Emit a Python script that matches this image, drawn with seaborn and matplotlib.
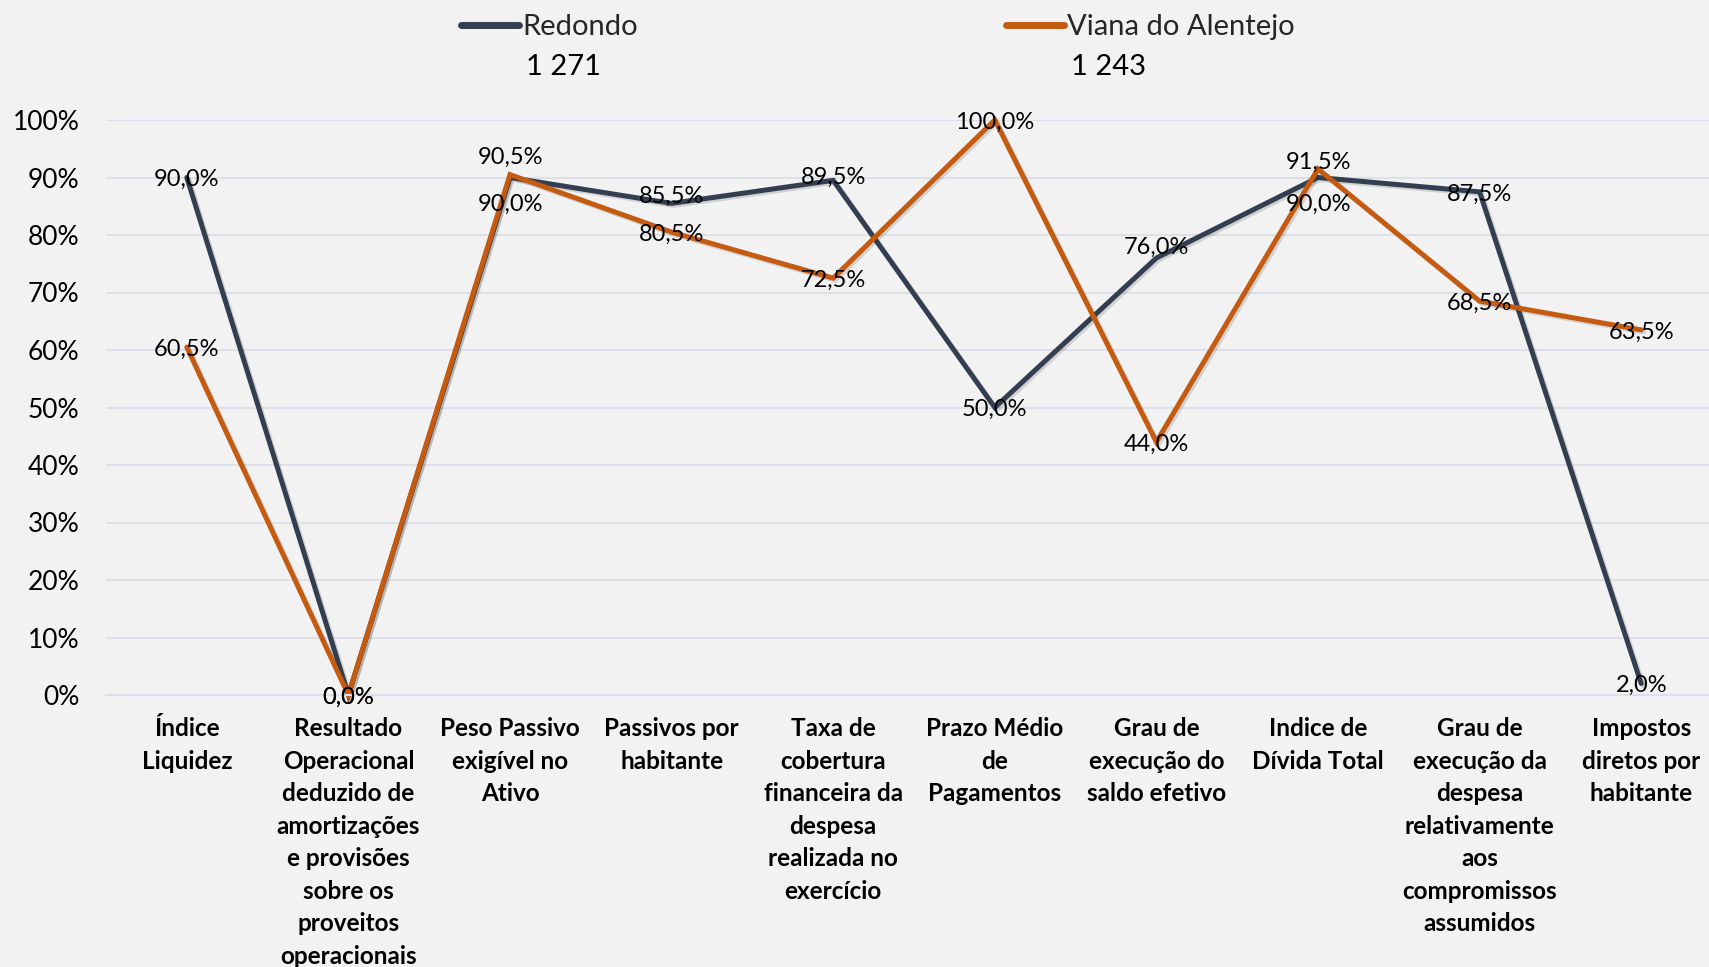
import matplotlib
matplotlib.use("Agg")
import matplotlib.pyplot as plt
import matplotlib.patheffects as pe
from matplotlib.ticker import FixedLocator, PercentFormatter
from matplotlib.lines import Line2D
import numpy as np
import pandas as pd
import seaborn as sns

categories = [
    "Índice\nLiquidez",
    "Resultado\nOperacional\ndeduzido de\namortizações\ne provisões\nsobre os\nproveitos\noperacionais",
    "Peso Passivo\nexigível no\nAtivo",
    "Passivos por\nhabitante",
    "Taxa de\ncobertura\nfinanceira da\ndespesa\nrealizada no\nexercício",
    "Prazo Médio\nde\nPagamentos",
    "Grau de\nexecução do\nsaldo efetivo",
    "Indice de\nDívida Total",
    "Grau de\nexecução da\ndespesa\nrelativamente\naos\ncompromissos\nassumidos",
    "Impostos\ndiretos por\nhabitante",
]
series_names = ["Redondo", "Viana do Alentejo"]
series_pop = ["1 271", "1 243"]
redondo = [90.0, 0.0, 90.0, 85.5, 89.5, 50.0, 76.0, 90.0, 87.5, 2.0]
viana = [60.5, 0.0, 90.5, 80.5, 72.5, 100.0, 44.0, 91.5, 68.5, 63.5]
y_ticks = [0, 10, 20, 30, 40, 50, 60, 70, 80, 90, 100]

# style
colors = {"Redondo": "#333f50", "Viana do Alentejo": "#c55a11"}
grid_color = "#dde1e7"
bg = "#f2f2f2"
FONT = "Lato"
label_dy = {
    ("Viana do Alentejo", 2): 19, ("Redondo", 2): -25,
    ("Viana do Alentejo", 7): 9, ("Redondo", 7): -25,
    ("Redondo", 3): 9, ("Redondo", 6): 13, ("Redondo", 4): 5,
}
legend_x = {"Redondo": 461, "Viana do Alentejo": 1006}  # px, handle left edge

sns.set_theme(style="white")
plt.rcParams["font.family"] = [FONT, "DejaVu Sans"]

rows = []
for name, vals in zip(series_names, [redondo, viana]):
    for i, v in enumerate(vals):
        rows.append({"idx": i, "value": v / 100.0, "series": name})
df = pd.DataFrame(rows)

W, H = 1709, 967
fig = plt.figure(figsize=(W / 100, H / 100), dpi=100, facecolor=bg)
ax = fig.add_axes([106 / W, 1 - 695 / H, (1722 - 106) / W, (695 - 120) / H])
ax.set_facecolor(bg)

sns.lineplot(data=df, x="idx", y="value", hue="series", palette=colors,
             linewidth=3.6, sort=False, ax=ax, legend=False,
             path_effects=[pe.SimpleLineShadow(offset=(1.5, -1.5), alpha=0.15), pe.Normal()])
for ln in ax.lines:
    ln.set_clip_on(False)
    ln.set_solid_joinstyle("miter")

n = len(categories)
ax.set_xlim(-0.5, n - 0.5)
ax.set_ylim(0, 1)
ax.yaxis.set_major_locator(FixedLocator([t / 100 for t in y_ticks]))
ax.yaxis.set_major_formatter(PercentFormatter(1.0, decimals=0))
ax.set_xticks(range(n))
ax.set_xticklabels(categories, fontsize=17.5, fontweight="bold", linespacing=1.5,
                   color="#000000")
ax.xaxis.set_minor_locator(FixedLocator([i - 0.5 for i in range(n + 1)]))
ax.tick_params(axis="x", which="major", length=0, pad=16)
ax.tick_params(axis="x", which="minor", length=8, width=1.5, color=grid_color)
ax.tick_params(axis="y", length=0, pad=19, labelsize=19, labelcolor="#000000")
ax.set_xlabel("")
ax.set_ylabel("")
ax.grid(axis="y", color=grid_color, linewidth=1.5)
ax.set_axisbelow(True)
for s in ["top", "right", "left"]:
    ax.spines[s].set_visible(False)
ax.spines["bottom"].set_color(grid_color)
ax.spines["bottom"].set_linewidth(1.5)

# data labels
for name, vals in zip(series_names, [redondo, viana]):
    for i, v in enumerate(vals):
        dy = label_dy.get((name, i), 0) - 2
        txt = f"{v:.1f}%".replace(".", ",")
        ax.annotate(txt, (i, v / 100.0), xytext=(0, dy * 0.72), textcoords="offset points",
                    ha="center", va="center", fontsize=17, color="#000000",
                    annotation_clip=False)

# legend: one entry per series, population below the name
legs = []
for name in series_names:
    h = Line2D([], [], color=colors[name], linewidth=5, solid_capstyle="round")
    lg = fig.legend([h], [name], loc="center left",
                    bbox_to_anchor=(legend_x[name] / W, 1 - 27 / H),
                    frameon=False, fontsize=21, handlelength=2.0, handletextpad=0.1,
                    borderaxespad=0, borderpad=0)
    legs.append(lg)
fig.canvas.draw()
renderer = fig.canvas.get_renderer()
for lg, pop in zip(legs, series_pop):
    t = lg.get_texts()[0]
    bb = t.get_window_extent(renderer)
    fig.text((bb.x0 + 4) / W, (bb.y0 + bb.y1) / 2 / H - 40 / H, pop, fontsize=21,
             ha="left", va="center", color="#000000")

fig.savefig("out.png", dpi=100, facecolor=bg)
